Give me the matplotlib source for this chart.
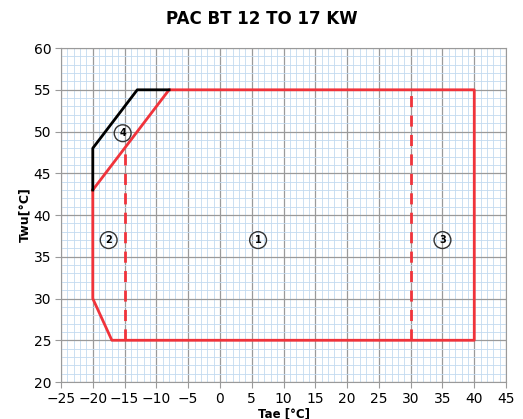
import matplotlib.pyplot as plt
import numpy as np

# operating envelope (Tae, Twu)
red_x = [-20, -8, 40, 40, -17, -20, -20]
red_y = [43, 55, 55, 25, 25, 30, 43]
black_x = [-20, -20, -13, -8]
black_y = [43, 48, 55, 55]
dash1_x = [-15, -15]
dash1_y = [25, 48]
dash2_x = [30, 30]
dash2_y = [25, 55]

zone_labels = ['1', '2', '3', '4']
zone_x = [6, -17.5, 35, -15.3]
zone_y = [37, 37, 37, 49.8]

fig = plt.figure(figsize=(5.23, 4.19), dpi=100)
ax = fig.add_axes([0.1166, 0.0883, 0.851, 0.797])

ax.set_xlim(-25, 45)
ax.set_ylim(20, 60)
ax.set_xticks(np.arange(-25, 46, 5))
ax.set_yticks(np.arange(20, 61, 5))
ax.set_xticks(np.arange(-25, 46, 1), minor=True)
ax.set_yticks(np.arange(20, 61, 1), minor=True)
ax.grid(which='minor', color='#c3daf0', lw=0.6)
ax.grid(which='major', color='#9a9a9a', lw=0.9)
ax.set_axisbelow(True)
ax.tick_params(which='minor', length=0)
ax.tick_params(which='major', length=4, color='#9a9a9a', labelsize=10, pad=3)
for s in ax.spines.values():
    s.set_color('#9a9a9a')

ax.plot(red_x, red_y, color='#f0333b', lw=2)
ax.plot(black_x, black_y, color='black', lw=2)
ax.plot(dash1_x, dash1_y, color='#f0333b', lw=2, dashes=(4, 3))
ax.plot(dash2_x, dash2_y, color='#f0333b', lw=2, dashes=(4, 3))

for lab, x, y in zip(zone_labels, zone_x, zone_y):
    ax.text(x, y, lab, ha='center', va='center', fontsize=7, fontweight='bold',
            bbox=dict(boxstyle='circle,pad=0.35', fc='none', ec='#333333', lw=1))

fig.text(0.5, 0.955, 'PAC BT 12 TO 17 KW', ha='center', va='center',
         fontsize=12, fontweight='bold')
ax.set_xlabel('Tae [°C]', fontsize=8.5, fontweight='bold', labelpad=1)
ax.set_ylabel('Twu[°C]', fontsize=9, fontweight='bold', labelpad=2)

fig.savefig('out.png', dpi=100)
